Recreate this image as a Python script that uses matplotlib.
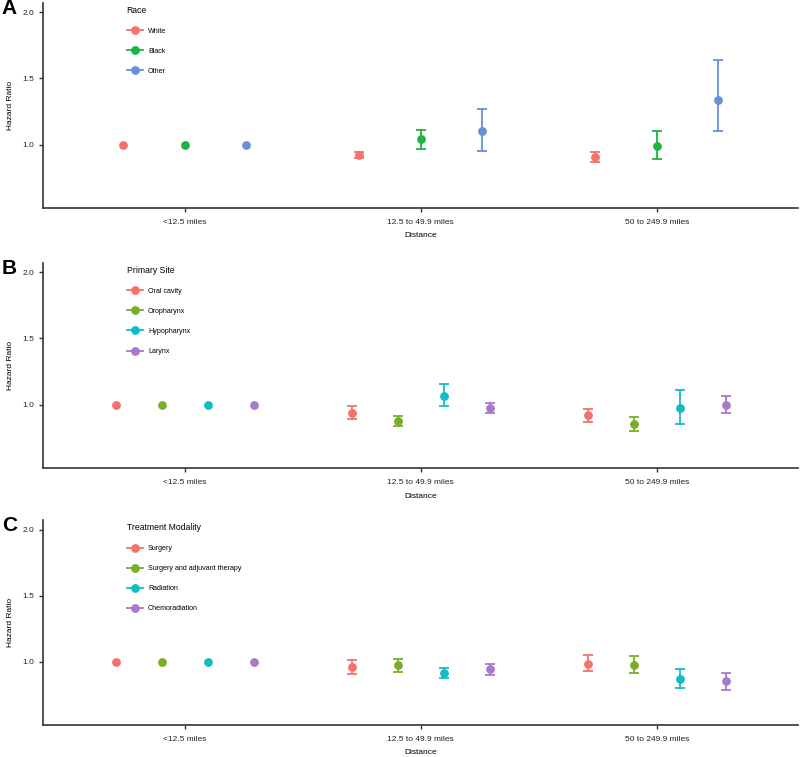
import matplotlib
matplotlib.use("Agg")
import matplotlib.pyplot as plt
from matplotlib.lines import Line2D
import numpy as np

plt.rcParams['font.family'] = ['Liberation Sans', 'DejaVu Sans']

distances = ["<12.5 miles", "12.5 to 49.9 miles", "50 to 249.9 miles"]

# Panel A: Race
race_groups = ["White", "Black", "Other"]
race_hr = [[1.00, 0.92, 0.907], [1.00, 1.04, 0.99], [1.00, 1.10, 1.34]]
race_lo = [[1.00, 0.90, 0.87], [1.00, 0.97, 0.89], [1.00, 0.95, 1.10]]
race_hi = [[1.00, 0.945, 0.94], [1.00, 1.11, 1.10], [1.00, 1.265, 1.636]]

# Panel B: Primary site
site_groups = ["Oral cavity", "Oropharynx", "Hypopharynx", "Larynx"]
site_hr = [[1.00, 0.935, 0.92], [1.00, 0.875, 0.857], [1.00, 1.068, 0.975], [1.00, 0.975, 1.00]]
site_lo = [[1.00, 0.895, 0.87], [1.00, 0.84, 0.80], [1.00, 0.99, 0.857], [1.00, 0.935, 0.937]]
site_hi = [[1.00, 0.988, 0.97], [1.00, 0.915, 0.91], [1.00, 1.155, 1.11], [1.00, 1.015, 1.065]]

# Panel C: Treatment modality
trt_groups = ["Surgery", "Surgery and adjuvant therapy", "Radiation", "Chemoradiation"]
trt_hr = [[1.00, 0.958, 0.985], [1.00, 0.97, 0.975], [1.00, 0.913, 0.87], [1.00, 0.94, 0.85]]
trt_lo = [[1.00, 0.908, 0.928], [1.00, 0.917, 0.913], [1.00, 0.877, 0.80], [1.00, 0.90, 0.787]]
trt_hi = [[1.00, 1.008, 1.048], [1.00, 1.02, 1.045], [1.00, 0.95, 0.945], [1.00, 0.98, 0.913]]

col3 = ["#F4716C", "#1DB440", "#6790D8"]
col4 = ["#F4716C", "#7AAE2A", "#12BCC4", "#A979CB"]

panels = [
    ("A", "Race", race_groups, race_hr, race_lo, race_hi, col3),
    ("B", "Primary Site", site_groups, site_hr, site_lo, site_hi, col4),
    ("C", "Treatment Modality", trt_groups, trt_hr, trt_lo, trt_hi, col4),
]

fig = plt.figure(figsize=(8, 7.57), dpi=100)
axes_rects = [
    [0.054, 0.7252, 0.944, 0.2708],
    [0.054, 0.3814, 0.944, 0.2712],
    [0.054, 0.0425, 0.944, 0.2700],
]

spine_col = "#333333"
dodge = 0.78
ms = 5.3
for (letter, title, groups, hr, lo, hi, cols), rect in zip(panels, axes_rects):
    ax = fig.add_axes(rect)
    n = len(groups)
    slot = dodge / n
    x = np.arange(len(distances))
    handles = []
    for i, g in enumerate(groups):
        off = -dodge / 2 + slot * (i + 0.5)
        h = np.array(hr[i]); l = np.array(lo[i]); u = np.array(hi[i])
        has_ci = (u - l) > 0
        ax.errorbar((x + off)[has_ci], h[has_ci],
                    yerr=[(h - l)[has_ci], (u - h)[has_ci]], fmt='none',
                    ecolor=cols[i], elinewidth=1.3, capsize=3.8, capthick=1.3,
                    zorder=2)
        ax.plot(x + off, h, 'o', color=cols[i], ms=ms, zorder=3)
        handles.append(Line2D([0], [0], color=cols[i], marker='o', ms=ms, lw=1.3))
    ax.set_xlim(-0.6, 2.6)
    ax.set_ylim(0.52, 2.07)
    ax.set_yticks([1.0, 1.5, 2.0])
    ax.set_yticklabels(["1.0", "1.5", "2.0"])
    ax.set_xticks(x)
    ax.set_xticklabels(distances)
    for s in ["top", "right"]:
        ax.spines[s].set_visible(False)
    for s in ["left", "bottom"]:
        ax.spines[s].set_color(spine_col)
        ax.spines[s].set_linewidth(1.2)
    ax.tick_params(axis='x', pad=5)
    ax.tick_params(axis='both', length=3, width=1.0, color=spine_col,
                   labelsize=6, labelcolor="#222222")
    ax.set_ylabel("Hazard Ratio", fontsize=6, labelpad=6)
    ax.set_xlabel("Distance", fontsize=6, labelpad=4.5)
    leg = ax.legend(handles, groups, title=title, loc='upper left',
                    bbox_to_anchor=(0.103, 1.015), frameon=False, fontsize=5.1,
                    title_fontsize=6.2, labelspacing=1.85, handlelength=2.3,
                    handletextpad=0.7, borderpad=0.3)
    leg._legend_box.align = "left"
    ax.text(-0.055, 1.02, letter, transform=ax.transAxes, fontsize=15,
            fontweight='bold', ha='left', va='top')

fig.savefig("out.png", dpi=100)
